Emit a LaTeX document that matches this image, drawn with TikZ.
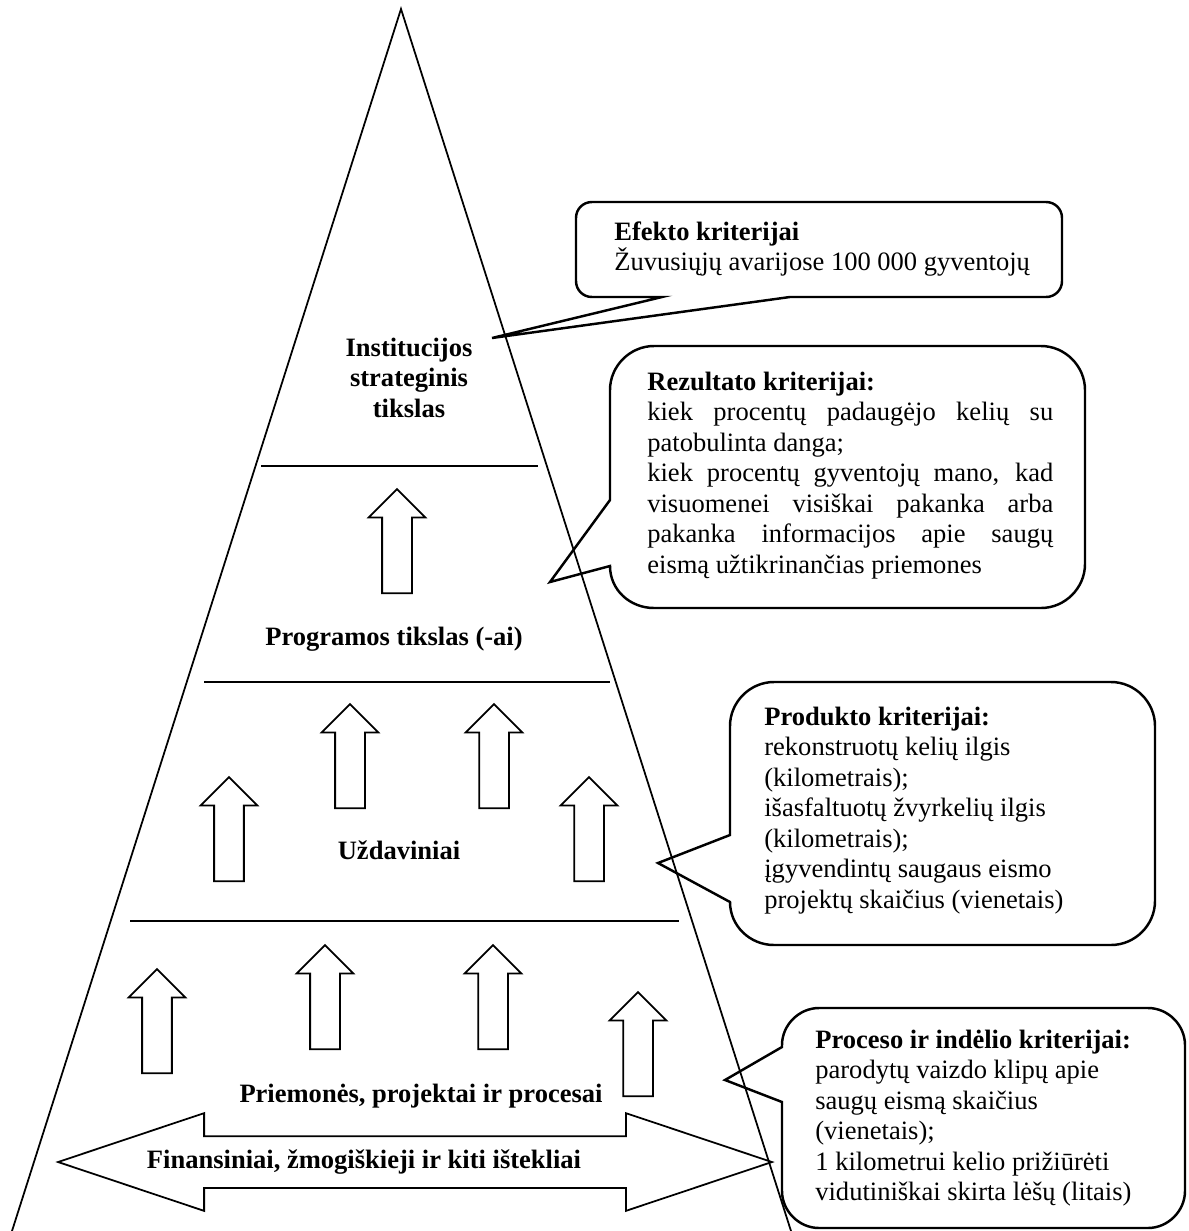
\documentclass[tikz,border=0pt]{standalone}
\usepackage{fontspec}
\setmainfont{Liberation Serif}
\usetikzlibrary{shapes.arrows}

\begin{document}
\begin{tikzpicture}[x=0.02cm,y=-0.02cm]
  \tikzset{UpArrowStyle/.style = {
    shape                   = single arrow,
    draw                    = black,
    line width              = 1pt,
    rotate                  = 90,
    anchor                  = tail,
    minimum height          = 2.08cm,
    minimum width           = 1.1cm,
    inner xsep              = 0pt,
    inner ysep              = 0.28cm,
    single arrow head extend = 0.27cm,
    single arrow tip angle  = 90
    }
  }
  \tikzset{BothArrowStyle/.style = {
    shape                   = double arrow,
    draw                    = black,
    line width              = 1pt,
    minimum height          = 14.28cm,
    minimum width           = 1.92cm,
    inner xsep              = 0pt,
    inner ysep              = 0.5cm,
    double arrow head extend = 0.46cm,
    double arrow tip angle  = 37
    }
  }
  \tikzset{PyramidStyle/.style = {
    draw          = black,
    line width    = 1pt
    }
  }
  \tikzset{LevelLineStyle/.style = {
    draw          = black,
    line width    = 1.2pt
    }
  }
  \tikzset{CalloutStyle/.style = {
    draw          = black,
    line width    = 1.4pt,
    line join     = miter
    }
  }
  \tikzset{LevelLabelStyle/.style = {
    inner sep     = 0pt,
    anchor        = base,
    font          = \bfseries\fontsize{15.1pt}{17.4pt}\selectfont
    }
  }
  \tikzset{NoteTextStyle/.style = {
    inner sep     = 0pt,
    anchor        = base west,
    font          = \fontsize{15.1pt}{17.4pt}\selectfont
    }
  }

  \useasboundingbox[fill=white] (0,0) rectangle (1189,1231);

  % pyramid
  \coordinate (Apex) at (401,9);
  \coordinate (BaseL) at (12,1231);
  \coordinate (BaseR) at (791,1231);
  \draw[PyramidStyle] (BaseL) -- (Apex) -- (BaseR);
  \draw[LevelLineStyle] (261,466) -- (538,466);
  \draw[LevelLineStyle] (204,682) -- (610,682);
  \draw[LevelLineStyle] (130,921) -- (679,921);

  % levels
  \node[LevelLabelStyle](Inst) at (409,356) {\parbox[t]{5cm}{\centering Institucijos\\strateginis\\tikslas}};
  \node[LevelLabelStyle](Prog) at (394,645) {Programos tikslas (-ai)};
  \node[LevelLabelStyle](Uzd) at (399,859) {Uždaviniai};
  \node[LevelLabelStyle](Priem) at (421,1102) {Priemonės, projektai ir procesai};

  % block arrows
  \node[UpArrowStyle](T1) at (397,594) {};
  \node[UpArrowStyle](M1) at (229,882) {};
  \node[UpArrowStyle](M2) at (350,809) {};
  \node[UpArrowStyle](M3) at (494,809) {};
  \node[UpArrowStyle](M4) at (589,882) {};
  \node[UpArrowStyle](B1) at (157,1074) {};
  \node[UpArrowStyle](B2) at (325,1050) {};
  \node[UpArrowStyle](B3) at (493,1050) {};
  \node[UpArrowStyle](B4) at (638,1097) {};
  \node[BothArrowStyle](Res) at (415,1162) {};
  \node[LevelLabelStyle](ResText) at (364,1168) {Finansiniai, žmogiškieji ir kiti ištekliai};

  % callouts
  \coordinate (EfTip) at (492,338);
  \coordinate (RezTip) at (550,582);
  \coordinate (ProdTip) at (658,863);
  \coordinate (ProcTip) at (725,1080);
  \draw[CalloutStyle] (592,202) -- (1046,202) .. controls +(9,0) and +(0,-9) .. (1062,218)
    -- (1062,281) .. controls +(0,9) and +(9,0) .. (1046,297) -- (790,297) -- (EfTip)
    -- (662,297) -- (592,297) .. controls +(-9,0) and +(0,9) .. (576,281)
    -- (576,218) .. controls +(0,-9) and +(-9,0) .. (592,202) -- cycle;
  \draw[CalloutStyle] (654,346) -- (1041,346) .. controls +(24,0) and +(0,-24) .. (1085,390)
    -- (1085,564) .. controls +(0,24) and +(24,0) .. (1041,608) -- (654,608)
    .. controls +(-24,0) and +(0,24) .. (610,566) -- (RezTip) -- (610,500)
    -- (610,390) .. controls +(0,-24) and +(-24,0) .. (654,346) -- cycle;
  \draw[CalloutStyle] (774,682) -- (1111,682) .. controls +(24,0) and +(0,-24) .. (1155,726)
    -- (1155,901) .. controls +(0,24) and +(24,0) .. (1111,945) -- (774,945)
    .. controls +(-24,0) and +(0,24) .. (730,902) -- (ProdTip) -- (730,835)
    -- (730,726) .. controls +(0,-24) and +(-24,0) .. (774,682) -- cycle;
  \draw[CalloutStyle] (819,1008) -- (1148,1008) .. controls +(20,0) and +(0,-20) .. (1185,1045)
    -- (1185,1191) .. controls +(0,20) and +(20,0) .. (1148,1228) -- (819,1228)
    .. controls +(-20,0) and +(0,20) .. (782,1191) -- (782,1102) -- (ProcTip) -- (782,1047)
    -- (782,1045) .. controls +(0,-20) and +(-20,0) .. (819,1008) -- cycle;

  \node[NoteTextStyle, font=\fontsize{15.1pt}{15.2pt}\selectfont](EfText) at (614,240)
    {\parbox[t]{9cm}{\raggedright{\bfseries Efekto kriterijai}\\Žuvusiųjų avarijose 100 000 gyventojų}};
  \node[NoteTextStyle](RezText) at (647,390)
    {\parbox[t]{8.12cm}{{\bfseries Rezultato kriterijai:}\\kiek procentų padaugėjo kelių su\linebreak
    patobulinta danga;\\kiek procentų gyventojų mano, kad\linebreak visuomenei visiškai pakanka arba\linebreak
    pakanka informacijos apie saugų\linebreak eismą užtikrinančias priemones}};
  \node[NoteTextStyle](ProdText) at (764,725)
    {\parbox[t]{8cm}{\raggedright{\bfseries Produkto kriterijai:}\\rekonstruotų kelių ilgis\\(kilometrais);\\
    išasfaltuotų žvyrkelių ilgis\\(kilometrais);\\įgyvendintų saugaus eismo\\projektų skaičius (vienetais)}};
  \node[NoteTextStyle](ProcText) at (815,1048)
    {\parbox[t]{8cm}{\raggedright{\bfseries Proceso ir indėlio kriterijai:}\\parodytų vaizdo klipų apie\\
    saugų eismą skaičius\\(vienetais);\\1 kilometrui kelio prižiūrėti\\vidutiniškai skirta lėšų (litais)}};

\end{tikzpicture}
\end{document}
